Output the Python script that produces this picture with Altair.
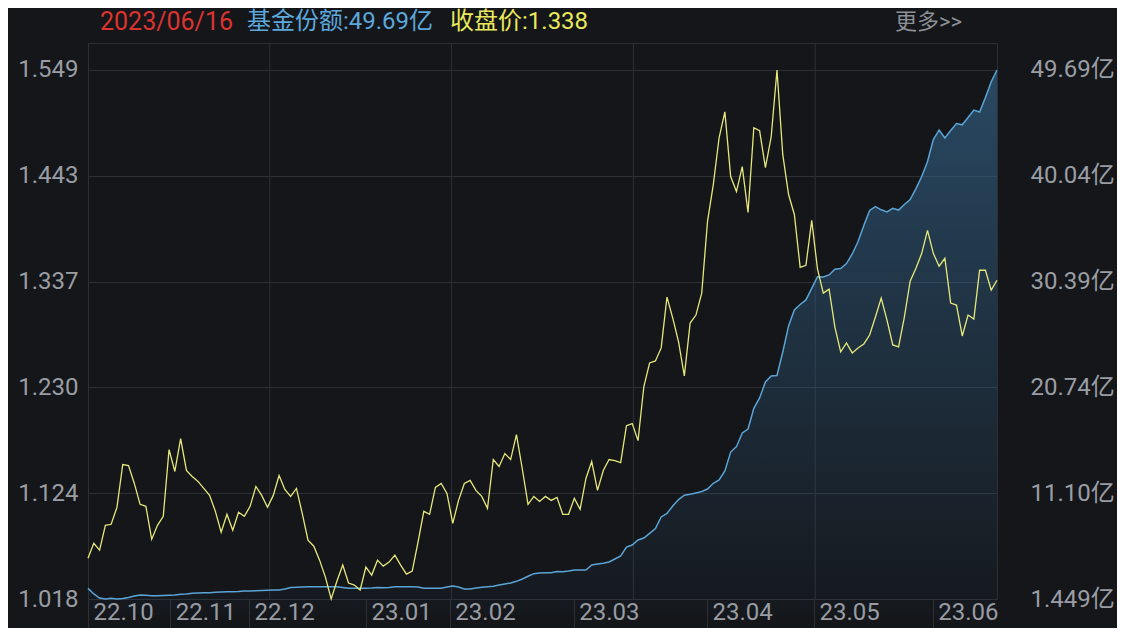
import altair as alt
import pandas as pd

# closing price (left axis)
price = [1.059,1.074,1.067,1.092,1.093,1.110,1.153,1.152,1.134,1.113,
         1.111,1.078,1.092,1.101,1.168,1.146,1.179,1.147,1.141,1.136,
         1.129,1.122,1.106,1.085,1.103,1.087,1.105,1.101,1.111,1.131,
         1.122,1.110,1.122,1.142,1.128,1.121,1.129,1.104,1.077,1.071,
         1.057,1.040,1.018,1.036,1.052,1.034,1.032,1.027,1.050,1.042,
         1.057,1.051,1.055,1.062,1.052,1.043,1.046,1.075,1.106,1.103,
         1.130,1.134,1.124,1.094,1.117,1.134,1.137,1.127,1.121,1.109,
         1.158,1.151,1.164,1.158,1.183,1.149,1.113,1.121,1.116,1.121,
         1.117,1.120,1.103,1.103,1.119,1.108,1.139,1.156,1.127,1.147,
         1.158,1.157,1.155,1.192,1.194,1.177,1.231,1.255,1.257,1.270,
         1.321,1.300,1.276,1.242,1.295,1.303,1.325,1.397,1.434,1.481,
         1.507,1.442,1.427,1.452,1.406,1.491,1.488,1.451,1.482,1.549,
         1.464,1.424,1.404,1.351,1.353,1.398,1.349,1.325,1.329,1.291,
         1.266,1.275,1.265,1.270,1.274,1.283,1.301,1.320,1.298,1.273,
         1.271,1.301,1.337,1.350,1.365,1.388,1.365,1.352,1.360,1.315,
         1.313,1.282,1.303,1.299,1.348,1.348,1.328,1.338]

# fund shares, 亿 (right axis)
shares = [2.42,1.91,1.54,1.449,1.51,1.449,1.49,1.59,1.72,1.81,
          1.79,1.75,1.75,1.77,1.79,1.81,1.88,1.91,1.97,2.00,
          2.02,2.02,2.06,2.09,2.12,2.12,2.13,2.18,2.18,2.21,
          2.22,2.24,2.27,2.27,2.36,2.50,2.52,2.54,2.57,2.57,
          2.57,2.57,2.57,2.57,2.50,2.42,2.42,2.42,2.42,2.45,
          2.50,2.48,2.50,2.57,2.57,2.57,2.57,2.54,2.42,2.42,
          2.42,2.42,2.54,2.63,2.54,2.36,2.36,2.45,2.52,2.57,
          2.61,2.73,2.82,2.91,3.06,3.27,3.52,3.76,3.82,3.85,
          3.85,3.96,3.94,4.00,4.09,4.09,4.09,4.55,4.64,4.70,
          4.82,5.10,5.37,6.19,6.37,6.83,7.01,7.44,7.88,8.93,
          9.26,9.93,10.52,10.92,11.00,11.12,11.25,11.48,12.00,12.30,
          13.12,14.85,15.34,16.59,16.95,18.84,19.78,21.24,21.79,21.83,
          23.97,26.35,27.80,28.31,28.72,29.78,30.84,30.81,31.00,31.52,
          31.59,32.04,32.91,34.05,35.51,36.88,37.24,36.94,36.74,37.08,
          36.92,37.43,37.88,38.88,39.98,41.35,43.35,44.22,43.49,44.17,
          44.81,44.69,45.36,46.04,45.86,47.18,48.62,49.69]

month_labels = ["22.10", "22.11", "22.12", "23.01", "23.02", "23.03", "23.04", "23.05", "23.06"]
month_start = [0, 14.2, 27.8, 48.0, 62.5, 83.9, 106.9, 125.4, 145.9]

left_ticks = [1.018, 1.1242, 1.2304, 1.3366, 1.4428, 1.549]
right_ticks = [1.449, 11.097, 20.745, 30.394, 40.042, 49.69]
right_labels = ["1.449亿", "11.10亿", "20.74亿", "30.39亿", "40.04亿", "49.69亿"]

date_text = "2023/06/16"

n = len(price)
df = pd.DataFrame({"idx": list(range(n)), "price": price, "shares": shares})
last_idx = n - 1
grid_x = pd.DataFrame({"idx": [last_idx * k / 5 for k in range(1, 5)]})

BG = "#14161a"
GRID = "#2c2f35"
LABEL = "#9a9da3"
FONT = "Roboto, 'Noto Sans CJK SC'"

xscale = alt.Scale(domain=[0, last_idx], nice=False, zero=False)
price_scale = alt.Scale(domain=[1.018, 1.5761], nice=False, zero=False)
share_scale = alt.Scale(domain=[1.449, 52.152], nice=False, zero=False)


def month_expr():
    parts = []
    for v, lab in zip(month_start, month_labels):
        parts.append(f"abs(datum.value - {v}) < 0.5 ? '{lab}'")
    return " : ".join(parts) + " : ''"


def right_expr():
    parts = []
    for v, lab in zip(right_ticks, right_labels):
        parts.append(f"abs(datum.value - {v}) < 1 ? '{lab}'")
    return " : ".join(parts) + " : ''"


xaxis = alt.Axis(
    values=month_start, labelExpr=month_expr(), title=None,
    grid=False, domain=False, ticks=True, tickSize=30, tickColor=GRID,
    labelAlign="left", labelBaseline="middle", labelOffset=5,
    labelPadding=-17, labelFlush=False, labelOverlap=False,
    labelFont=FONT, labelFontSize=24, labelColor=LABEL)

X = alt.X("idx:Q", scale=xscale, axis=xaxis)

rules = alt.Chart(grid_x).mark_rule(color=GRID, strokeWidth=1).encode(x=X)

gradient = alt.Gradient(
    gradient="linear",
    stops=[alt.GradientStop(color="rgba(58,115,160,0.78)", offset=0),
           alt.GradientStop(color="rgba(58,115,160,0.03)", offset=1)],
    x1=1, x2=1, y1=0, y2=1,
)

area = alt.Chart(df).mark_area(
    color=gradient,
    line={"color": "#5ba4d6", "strokeWidth": 1.5},
).encode(
    x=X,
    y=alt.Y("shares:Q", scale=share_scale, axis=alt.Axis(
        orient="right", values=right_ticks, labelExpr=right_expr(), title=None,
        grid=False, domain=False, ticks=False, labelPadding=33,
        labelAlign="left", labelOverlap=False,
        labelFont=FONT, labelFontSize=24, labelColor=LABEL)),
)

line = alt.Chart(df).mark_line(color="#e6e87a", strokeWidth=1.3).encode(
    x=X,
    y=alt.Y("price:Q", scale=price_scale, axis=alt.Axis(
        orient="left", values=left_ticks, format=".3f", title=None,
        grid=True, gridColor=GRID, gridWidth=1, domain=False, ticks=False,
        labelPadding=10, labelOverlap=False,
        labelFont=FONT, labelFontSize=24, labelColor=LABEL)),
)

one = pd.DataFrame({"a": [0]})


def header(txt, color, x, size=24):
    return alt.Chart(one).mark_text(
        text=txt, color=color, font=FONT, fontSize=size,
        align="left", baseline="middle",
    ).encode(x=alt.value(x), y=alt.value(-21))


h1 = header(date_text, "#dc332f", 12, 25)
h2 = header(f"基金份额:{shares[-1]:.2f}亿", "#5ca8dc", 159)
h3 = header(f"收盘价:{price[-1]:.3f}", "#e9e95a", 362)
h4 = header("更多>>", "#8d9096", 807, 22)

chart = alt.layer(rules, area, line, h1, h2, h3, h4).resolve_scale(
    y="independent"
).properties(
    width=909, height=556,
    autosize=alt.AutoSizeParams(type="none"),
    padding={"left": 80, "top": 35, "right": 120, "bottom": 29},
    background=BG,
).configure_view(stroke=GRID, strokeWidth=1, fill=BG)

chart.save("out.html", embed_options={"renderer": "svg", "actions": False})
